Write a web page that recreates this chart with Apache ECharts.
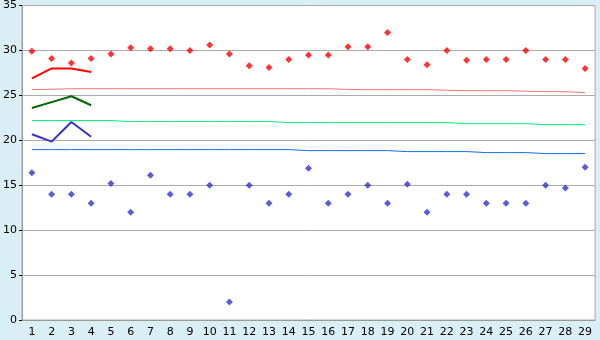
<!DOCTYPE html>
<html><head><meta charset="utf-8">
<script src="https://cdn.jsdelivr.net/npm/echarts@6/dist/echarts.min.js"></script>
<style>html,body{margin:0;padding:0;background:#daeef5;}#c{width:600px;height:340px;}</style>
</head><body><div id="c"></div>
<script>
var categories = ['1','2','3','4','5','6','7','8','9','10','11','12','13','14','15','16','17','18','19','20','21','22','23','24','25','26','27','28','29'];
var maxPoints = [29.9,29.1,28.6,29.1,29.6,30.3,30.2,30.2,30.0,30.6,29.6,28.3,28.1,29.0,29.5,29.5,30.4,30.4,32.0,29.0,28.4,30.0,28.9,29.0,29.0,30.0,29.0,29.0,28.0];
var minPoints = [16.4,14,14,13,15.2,12,16.1,14,14,15,2,15,13,14,16.9,13,14,15,13,15.1,12,14,14,13,13,13,15,14.7,17];
var recentMax = [26.9,28.0,28.0,27.6];
var recentMid = [23.6,24.25,24.9,23.9];
var recentMin = [20.67,19.85,22.03,20.4];
var avgMax = [25.63,25.68,25.74,25.74,25.74,25.74,25.74,25.74,25.74,25.74,25.74,25.74,25.74,25.74,25.74,25.74,25.66,25.63,25.63,25.63,25.63,25.57,25.52,25.52,25.52,25.46,25.41,25.41,25.3];
var avgMid = [22.19,22.19,22.19,22.19,22.19,22.08,22.08,22.08,22.08,22.08,22.08,22.08,22.08,21.97,21.97,21.97,21.97,21.97,21.97,21.97,21.97,21.97,21.85,21.85,21.85,21.85,21.74,21.74,21.74];
var avgMin = [18.96,18.96,18.96,18.96,18.96,18.96,18.96,18.96,18.96,18.96,18.96,18.96,18.96,18.96,18.85,18.85,18.85,18.85,18.85,18.74,18.74,18.74,18.74,18.63,18.63,18.63,18.52,18.52,18.52];
var yTicks = {min:0, max:35, interval:5};

var chart = echarts.init(document.getElementById('c'));
var font = 'DejaVu Sans';
function lineS(data, color, w) {
  return {type:'line', data:data, symbol:'none', silent:true, animation:false,
    lineStyle:{color:color, width:w}, z: 2};
}
function dotS(data, color) {
  return {type:'scatter', data:data, symbol:'diamond', symbolSize:7, animation:false,
    itemStyle:{color:color}, z: 3};
}
chart.setOption({
  backgroundColor:'#daeef5',
  animation:false,
  grid:{left:20, right:5, top:5, bottom:20, show:true, backgroundColor:'#ffffff', borderColor:'#aaaaaa', borderWidth:1},
  xAxis:{type:'category', data:categories, boundaryGap:true,
    axisLine:{lineStyle:{color:'#999999'}},
    axisTick:{alignWithLabel:true, length:4, lineStyle:{color:'#000'}},
    axisLabel:{color:'#000', fontFamily:font, fontSize:11, margin:7, interval:0},
    splitLine:{show:false}},
  yAxis:{type:'value', min:yTicks.min, max:yTicks.max, interval:yTicks.interval,
    axisLine:{show:true, lineStyle:{color:'#999999'}},
    axisTick:{show:true, length:3, lineStyle:{color:'#000'}},
    axisLabel:{color:'#000', fontFamily:font, fontSize:11, margin:5},
    splitLine:{lineStyle:{color:'#aaaaaa'}}},
  series:[
    lineS(avgMax,'#ff7070',1),
    lineS(avgMid,'#00ee77',1),
    lineS(avgMin,'#1070e0',1),
    lineS(recentMax,'#ff0000',2),
    lineS(recentMid,'#006600',2),
    lineS(recentMin,'#3333cc',2),
    dotS(maxPoints,'#ff0000'),
    dotS(minPoints,'#3333cc')
  ]
});
</script></body></html>
